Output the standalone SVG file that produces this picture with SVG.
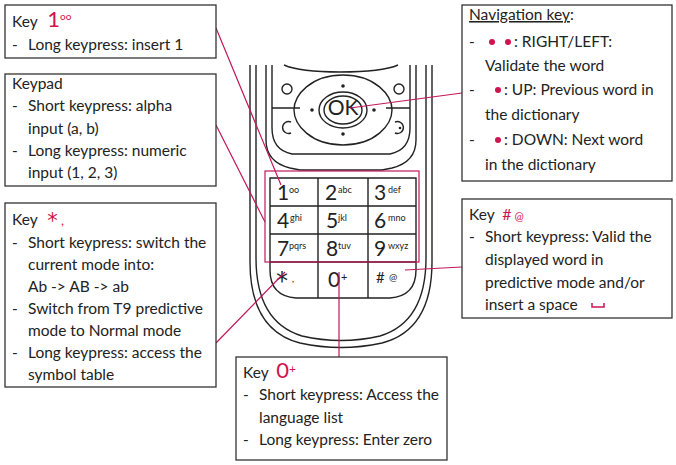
<svg xmlns="http://www.w3.org/2000/svg" width="676" height="465" viewBox="0 0 676 465">
<style>
.box{fill:#fff;stroke:#333;stroke-width:1.3}
.t{font-family:Lato,"Open Sans",sans-serif;font-size:15.5px;fill:#222}
.r{fill:#d0134f}
.ln{stroke:#c2185b;stroke-width:1.2;fill:none}
.ph{fill:none;stroke:#222;stroke-width:1.4}
.k{font-family:Lato,sans-serif;font-size:21px;fill:#222}
.ks{font-family:Lato,sans-serif;font-size:9px;fill:#222}
.st{font-family:"DejaVu Sans",sans-serif}
</style>
<rect width="676" height="465" fill="#fff"/>
<g id="phone">
<path class="ph" d="M250,65 V262 Q250,330 300,343 Q341,352 382,343 Q432,330 432,262 V65"/>
<path class="ph" d="M256,65 V258 Q256,322 302,336 Q341,345 380,336 Q426,322 426,258 V65"/>
<path class="ph" d="M266,65 V140 Q266,162 290,168 L300,170 H382 L392,168 Q416,162 416,140 V65"/>
<path class="ph" d="M272,65 V128 Q272,150 292,154 H390 Q410,150 410,128 V65"/>
<path class="ph" d="M284,65 Q300,72 340,72 Q382,72 398,65"/>
<path class="ph" d="M272,108 H300 M410,108 H386"/>
<path class="ph" d="M343,75 C375,75 392,95 392,110 C392,125 375,145 343,145 C311,145 294,125 294,110 C294,95 311,75 343,75Z"/>
<circle cx="343" cy="86" r="1.8" fill="#222"/><circle cx="343" cy="134" r="1.8" fill="#222"/>
<circle cx="312" cy="110" r="1.8" fill="#222"/><circle cx="374" cy="110" r="1.8" fill="#222"/>
<ellipse class="ph" cx="343" cy="110" rx="24" ry="18"/>
<ellipse class="ph" cx="343" cy="110" rx="19" ry="14" stroke-width="2"/>
<text x="343" y="115" text-anchor="middle" class="k" font-size="13">OK</text>
<circle class="ph" cx="287" cy="89" r="5"/><circle class="ph" cx="399" cy="89" r="5"/>
<path class="ph" d="M291,122 A6,6 0 1 0 291,133"/>
<path class="ph" d="M395,122 A6,6 0 1 1 395,133"/><circle cx="400" cy="128" r="1.3" fill="#222"/>
<path class="ph" d="M270,178 H416 V270 Q416,296 390,298 H296 Q270,296 270,270 Z"/>
<path class="ph" d="M318,178 V298 M368,178 V298 M270,206 H416 M270,234 H416 M270,262 H416"/>
<g class="k"><text x="277" y="200">1</text><text x="325" y="200">2</text><text x="374" y="200">3</text>
<text x="277" y="228">4</text><text x="326" y="228">5</text><text x="374" y="228">6</text>
<text x="277" y="256">7</text><text x="326" y="256">8</text><text x="374" y="256">9</text>
<text x="276" y="289" class="st" font-size="24">*</text><text x="328" y="287">0</text><text x="376" y="283" font-size="15">#</text></g>
<g class="ks"><text x="292" y="282">,</text><text x="341" y="281" font-size="11">+</text><text x="389" y="281" font-size="10">@</text>
<text x="289" y="193">oo</text><text x="338" y="193">abc</text><text x="388" y="193">def</text>
<text x="290" y="221">ghi</text><text x="338" y="221">jkl</text><text x="388" y="221">mno</text>
<text x="289" y="249">pqrs</text><text x="338" y="249">tuv</text><text x="388" y="249">wxyz</text></g>
</g>
<g id="connectors">
<rect x="265" y="171" width="154" height="91" class="ln"/>
<path class="ln" d="M216,28 L281,185 M216,125 L265,222 M216,343 L285,272 M339,357 V272 M462,93 L350,108 M462,267 L405,270"/>
</g>
<g id="key1"><rect class="box" x="5" y="5" width="211" height="53"/>
<text class="t" x="12" y="27">Key <tspan class="r" font-size="22" dx="6">1</tspan><tspan class="r" font-size="10" dy="-7">oo</tspan></text>
<text class="t" x="12" y="50">-</text><text class="t" x="28" y="50">Long keypress: insert 1</text></g>
<g id="keypad"><rect class="box" x="5" y="74" width="211" height="112"/>
<text class="t" x="12" y="89">Keypad</text>
<text class="t" x="12" y="111">-</text><text class="t" x="28" y="111">Short keypress: alpha</text>
<text class="t" x="28" y="134">input (a, b)</text>
<text class="t" x="12" y="156">-</text><text class="t" x="28" y="156">Long keypress: numeric</text>
<text class="t" x="28" y="178">input (1, 2, 3)</text></g>
<g id="keystar"><rect class="box" x="5" y="203" width="211" height="184"/>
<text class="t" x="12" y="225">Key <tspan class="r st" font-size="21" dx="6" dy="3">*</tspan><tspan class="r" font-size="13" dy="-3"> ,</tspan></text>
<text class="t" x="12" y="248">-</text><text class="t" x="28" y="248">Short keypress: switch the</text>
<text class="t" x="28" y="270">current mode into:</text>
<text class="t" x="28" y="292">Ab -&gt; AB -&gt; ab</text>
<text class="t" x="12" y="314">-</text><text class="t" x="28" y="314">Switch from T9 predictive</text>
<text class="t" x="28" y="336">mode to Normal mode</text>
<text class="t" x="12" y="358">-</text><text class="t" x="28" y="358">Long keypress: access the</text>
<text class="t" x="28" y="380">symbol table</text></g>
<g id="key0"><rect class="box" x="236" y="357" width="211" height="103"/>
<text class="t" x="243" y="378">Key <tspan class="r" font-size="22" dx="4">0</tspan><tspan class="r" font-size="12" dy="-5">+</tspan></text>
<text class="t" x="243" y="400">-</text><text class="t" x="259" y="400">Short keypress: Access the</text>
<text class="t" x="259" y="423">language list</text>
<text class="t" x="243" y="445">-</text><text class="t" x="259" y="445">Long keypress: Enter zero</text></g>
<g id="nav"><rect class="box" x="462" y="5" width="210" height="176"/>
<text class="t" x="469" y="20"><tspan text-decoration="underline">Navigation key</tspan>:</text>
<text class="t" x="469" y="47">-</text><circle class="r" cx="492" cy="42" r="3"/><circle class="r" cx="508" cy="42" r="3"/><text class="t" x="514" y="47">: RIGHT/LEFT:</text>
<text class="t" x="485" y="71">Validate the word</text>
<text class="t" x="469" y="95">-</text><circle class="r" cx="498" cy="90" r="3"/><text class="t" x="504" y="95">: UP: Previous word in</text>
<text class="t" x="485" y="120">the dictionary</text>
<text class="t" x="469" y="145">-</text><circle class="r" cx="498" cy="140" r="3"/><text class="t" x="504" y="145">: DOWN: Next word</text>
<text class="t" x="485" y="170">in the dictionary</text></g>
<g id="keyhash"><rect class="box" x="462" y="199" width="210" height="119"/>
<text class="t" x="469" y="220">Key <tspan class="r" font-size="16" dx="4">#</tspan><tspan class="r" font-size="11" dx="3">@</tspan></text>
<text class="t" x="469" y="242">-</text><text class="t" x="485" y="242">Short keypress: Valid the</text>
<text class="t" x="485" y="265">displayed word in</text>
<text class="t" x="485" y="288">predictive mode and/or</text>
<text class="t" x="485" y="310">insert a space</text>
<path d="M592,303 V307 H604 V303" stroke="#d0134f" stroke-width="1.5" fill="none"/></g>
</svg>
